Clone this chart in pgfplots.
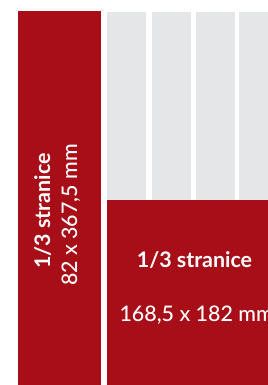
\documentclass[border=0pt]{standalone}
\usepackage{pgfplots}
\pgfplotsset{compat=1.18}
\usepackage{fontspec}
\setmainfont{Lato}
\newfontfamily\latomed{Lato Medium}
\definecolor{adred}{RGB}{168,14,23}
\definecolor{adgrey}{RGB}{229,230,232}
\begin{document}
\begin{tikzpicture}
\useasboundingbox (0,0) rectangle (268bp,385bp);
\clip (0,0) rectangle (268bp,385bp);
\begin{axis}[
  at={(0,0)}, anchor=south west,
  scale only axis, width=268bp, height=385bp,
  xmin=0, xmax=268, ymin=0, ymax=385,
  hide axis, clip=false,
]
% grey columns (x from, x to; y from 185 to 373)
\addplot[fill=adgrey, draw=none] coordinates {(107,185) (146,185) (146,373) (107,373)} -- cycle;
\addplot[fill=adgrey, draw=none] coordinates {(152,185) (191,185) (191,373) (152,373)} -- cycle;
\addplot[fill=adgrey, draw=none] coordinates {(196,185) (235,185) (235,373) (196,373)} -- cycle;
\addplot[fill=adgrey, draw=none] coordinates {(239,185) (275,185) (275,373) (239,373)} -- cycle;
% left red column
\addplot[fill=adred, draw=none] coordinates {(18,-5) (101,-5) (101,374) (18,374)} -- cycle;
% bottom red block
\addplot[fill=adred, draw=none] coordinates {(107,-5) (275,-5) (275,185) (107,185)} -- cycle;
\node[rotate=90, text=white, font=\fontsize{21.5}{24}\selectfont\bfseries, anchor=base] at (axis cs:50,174) {1/3 stranice};
\node[rotate=90, text=white, font=\fontsize{21.5}{24}\selectfont\latomed, anchor=base] at (axis cs:77,170) {82 x 367,5 mm};
\node[text=white, font=\fontsize{21.5}{24}\selectfont\bfseries, anchor=base] at (axis cs:194.5,117) {1/3 stranice};
\node[text=white, font=\fontsize{21.5}{24}\selectfont\latomed, anchor=base west] at (axis cs:116,63) {168,5 x 182 mm};
\end{axis}
\end{tikzpicture}
\end{document}
